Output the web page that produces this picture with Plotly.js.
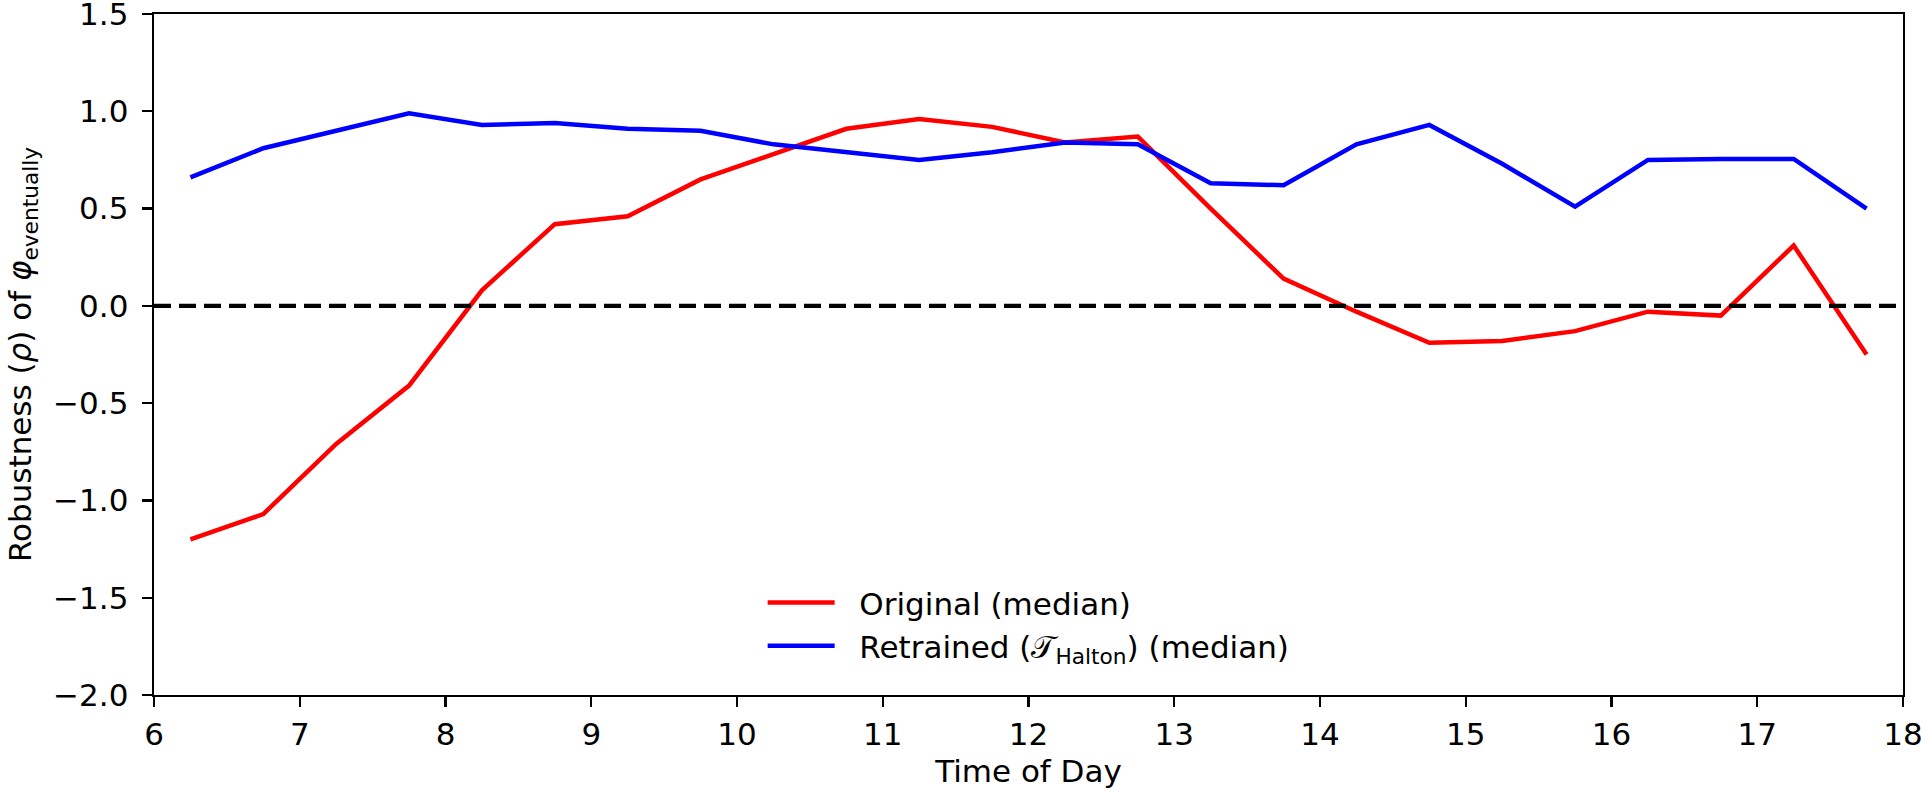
<!DOCTYPE html>
<html>
<head>
<meta charset="utf-8">
<script src="https://cdn.plot.ly/plotly-3.0.1.min.js"></script>
<style>html,body{margin:0;padding:0;background:#fff;}#chart{width:1921px;height:789px;}</style>
</head>
<body>
<div id="chart"></div>
<script>
const timeOfDay = [6.25, 6.75, 7.25, 7.75, 8.25, 8.75, 9.25, 9.75, 10.25, 10.75, 11.25, 11.75,
                   12.25, 12.75, 13.25, 13.75, 14.25, 14.75, 15.25, 15.75, 16.25, 16.75, 17.25, 17.75];
const originalMedian = [-1.20, -1.07, -0.71, -0.41, 0.08, 0.42, 0.46, 0.65, 0.78, 0.91, 0.96, 0.92,
                        0.84, 0.87, 0.50, 0.14, -0.03, -0.19, -0.18, -0.13, -0.03, -0.05, 0.31, -0.25];
const retrainedMedian = [0.66, 0.81, 0.90, 0.99, 0.93, 0.94, 0.91, 0.90, 0.83, 0.79, 0.75, 0.79,
                         0.84, 0.83, 0.63, 0.62, 0.83, 0.93, 0.73, 0.51, 0.75, 0.755, 0.755, 0.50];
const xTicks = [6, 7, 8, 9, 10, 11, 12, 13, 14, 15, 16, 17, 18];
const yTicks = [-2.0, -1.5, -1.0, -0.5, 0.0, 0.5, 1.0, 1.5];
const yTickText = yTicks.map(v => (v < 0 ? '\u2212' : '') + Math.abs(v).toFixed(1));

const FONT = 'DejaVu Sans, sans-serif';
const FS = 31;
const PAD = '\u00A0\u00A0';
const traces = [
  {x: timeOfDay, y: originalMedian, type: 'scatter', mode: 'lines', name: PAD + 'Original (median)',
   line: {color: '#ff0000', width: 4.5}},
  {x: timeOfDay, y: retrainedMedian, type: 'scatter', mode: 'lines',
   name: PAD + 'Retrained (\uD835\uDCAF<sub>Halton</sub>) (median)',
   line: {color: '#0000ff', width: 4.5}}
];
const layout = {
  width: 1921, height: 789,
  margin: {l: 154, r: 18, t: 14, b: 94},
  paper_bgcolor: '#fff', plot_bgcolor: '#fff',
  font: {family: FONT, size: FS, color: '#000'},
  showlegend: true,
  legend: {x: 0.348, y: 0.175, xanchor: 'left', yanchor: 'top', bgcolor: 'rgba(0,0,0,0)',
           borderwidth: 0, font: {family: FONT, size: FS}, itemwidth: 67},
  xaxis: {range: [6, 18], tickvals: xTicks, ticktext: xTicks.map(String),
          showgrid: false, zeroline: false, showline: true, mirror: true,
          linecolor: '#000', linewidth: 2.4, ticks: 'outside', ticklen: 10, tickwidth: 2.4,
          tickcolor: '#000', tickfont: {family: FONT, size: FS}, ticklabelstandoff: 0,
          ticklabeloverflow: 'allow',
          title: {text: 'Time of Day', font: {family: FONT, size: FS}, standoff: 25}},
  yaxis: {range: [-2.0, 1.5], tickvals: yTicks, ticktext: yTickText,
          showgrid: false, zeroline: false, showline: true, mirror: true,
          linecolor: '#000', linewidth: 2.4, ticks: 'outside', ticklen: 10, tickwidth: 2.4,
          tickcolor: '#000', tickfont: {family: FONT, size: FS}, ticklabelstandoff: 7,
          ticklabeloverflow: 'allow',
          title: {text: 'Robustness (<i>ρ</i>) of <i>φ</i><sub>eventually</sub>',
                  font: {family: FONT, size: FS}, standoff: 12}},
  shapes: [{type: 'line', xref: 'paper', x0: 0, x1: 1, yref: 'y', y0: 0, y1: 0,
            line: {color: '#000', width: 4.2, dash: '17px,8px'}}]
};
Plotly.newPlot('chart', traces, layout, {displayModeBar: false, staticPlot: true});
</script>
</body>
</html>
